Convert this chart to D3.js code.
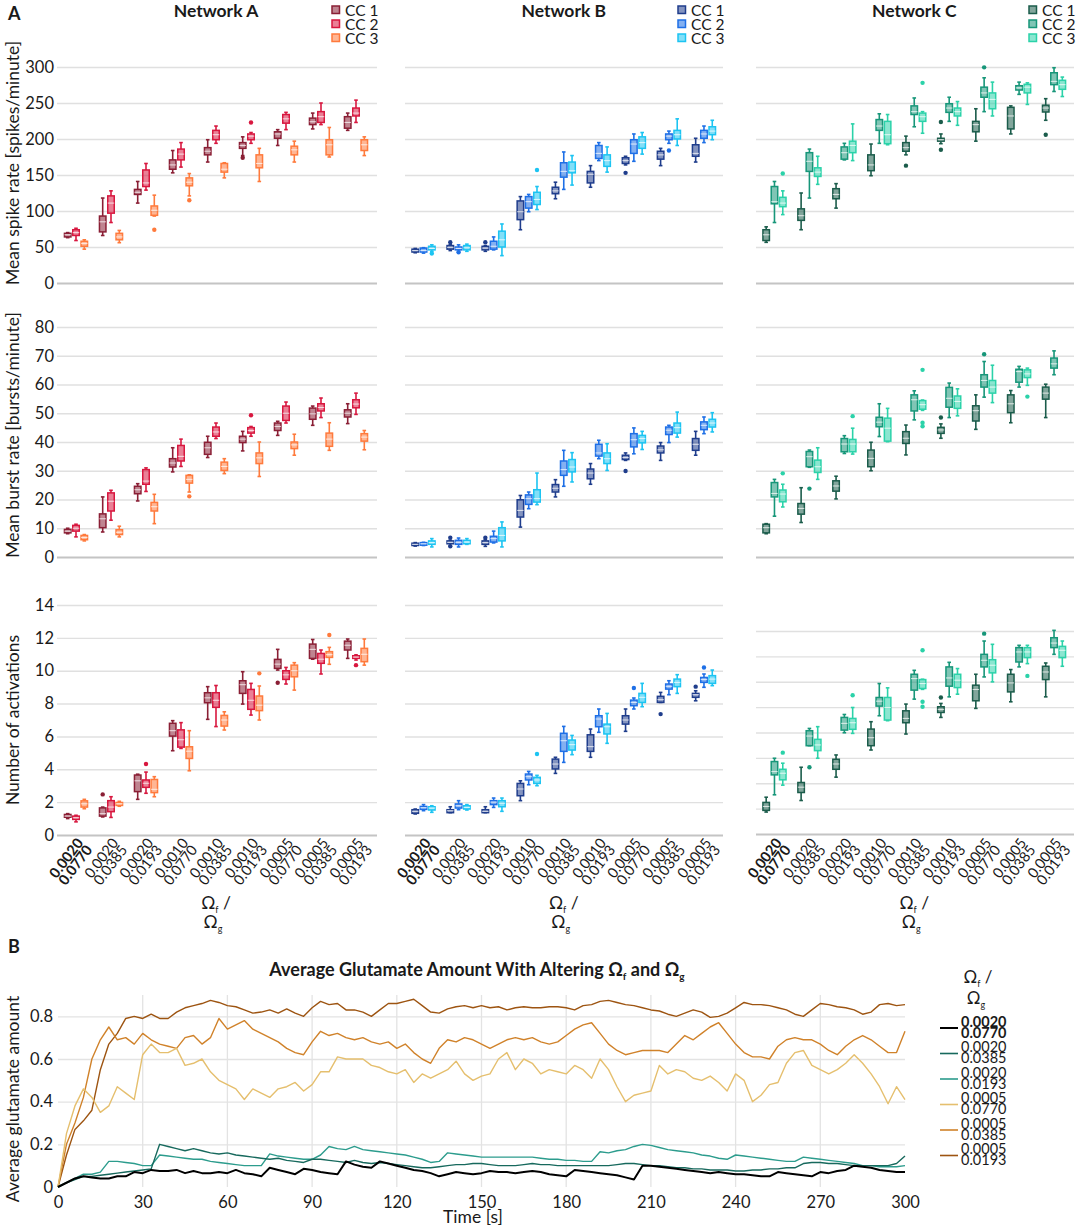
<!DOCTYPE html>
<html>
<head>
<meta charset="utf-8">
<script src="https://cdn.jsdelivr.net/npm/d3@7"></script>
<style>
  body { margin: 0; background: #fff; }
  svg { font-family: Lato, "Open Sans", sans-serif; }
</style>
</head>
<body>
<svg id="fig" width="1084" height="1227"></svg>
<script>
// ---------- data: panel A (box plots) ----------
const omegaF = ['0.0020', '0.0020', '0.0020', '0.0010', '0.0010', '0.0010', '0.0005', '0.0005', '0.0005'];
const omegaG = ['0.0770', '0.0385', '0.0193', '0.0770', '0.0385', '0.0193', '0.0770', '0.0385', '0.0193'];
const ccLabels = ['CC 1', 'CC 2', 'CC 3'];
const networks = ['Network A', 'Network B', 'Network C'];
const colorsA = ['#8a1f35', '#d8173f', '#ff7a3c'];
const colorsB = ['#1f3d8c', '#1e6fe6', '#1cc4f2'];
const colorsC = ['#1b5c4b', '#179679', '#2bd2a9'];

// each box: [low whisker, q1, median, q3, high whisker]; outliers: [cc, group, value]
const spikeA = [
  [[63,64,67,69,70],[66,71,85,93,118],[111,123,126,130,141],[153,158,164,171,184],[168,178,183,188,199],[177,187,191,195,203],[191,201,207,210,213],[214,220,224,229,236],[212,215,223,231,236]],
  [[59,66,70,74,76],[84,97,111,121,128],[129,134,139,157,166],[161,171,179,186,195],[194,199,206,212,218],[194,199,204,207,209],[213,222,228,234,237],[220,223,231,238,250],[223,232,236,243,254]],
  [[47,51,55,58,60],[56,60,64,69,73],[93,94,101,107,122],[121,135,140,146,152],[146,154,158,166,167],[141,160,166,178,187],[168,178,185,190,197],[175,178,192,199,216],[177,184,192,199,203]]
];
const spikeAOut = [[0,5,174],[1,5,223],[2,2,74],[2,3,115]];

const burstA = [
  [[8.1,8.4,9,9.6,10],[8.7,10.2,13.3,15,20.9],[19.5,22,23.4,24.6,25.5],[29.6,31.3,32.7,34.2,38],[34.6,35.7,38,39.9,42],[36.9,39.8,41,42,43.7],[42.3,44,45.4,46.6,47.2],[45.8,47.9,49.8,51.8,52.5],[46.4,48.7,50,51.2,53.3]],
  [[7,9,10,11,11.4],[12.8,16,19.4,22.3,23.2],[22.8,25.3,26.4,30.4,31],[31.5,33.4,35,38.8,41],[41.2,42,43.5,45.2,46.6],[42,43.1,44,45,45.4],[46.6,47.5,50,52.5,53.9],[48.5,50.8,52,53.3,55.3],[49.6,51.9,53.2,54.7,57]],
  [[5.6,6,6.8,7.5,7.8],[7,7.8,8.6,9.5,10.7],[11.6,16,17.5,19,21.8],[22.6,25.7,27,28.4,28.6],[29,30.1,31.5,33,34.2],[28,32.5,34.5,36.2,40],[35.4,37.7,39,40,42.7],[37.1,38.5,41,43.1,46.7],[37.3,40.3,41.7,42.9,44]]
];
const burstAOut = [[1,5,49.3],[2,3,21.1]];

const actA = [
  [[1.0,1.08,1.15,1.25,1.3],[1.1,1.15,1.3,1.65,1.7],[2.17,2.64,3.3,3.65,3.7],[5.13,6.02,6.35,6.8,6.96],[7.04,8.05,8.35,8.66,9.03],[7.97,8.62,9.15,9.39,9.94],[10.04,10.14,10.4,10.69,11.3],[10.7,10.75,11.3,11.62,11.9],[10.75,11.26,11.55,11.8,11.93]],
  [[0.8,0.95,1.05,1.15,1.2],[1.07,1.42,1.7,2.09,2.33],[2.54,2.9,3.15,3.35,3.83],[5.27,5.35,5.8,6.4,6.84],[6.6,7.77,8.2,8.66,9.1],[7.3,7.65,8.2,8.86,9.23],[9.19,9.47,9.75,10,10.2],[9.8,10.45,10.7,11.05,11.26],[10.65,10.75,10.83,10.91,10.97]],
  [[1.6,1.7,1.9,2.08,2.17],[1.75,1.8,1.9,1.98,2.05],[2.33,2.58,2.78,3.38,3.55],[3.91,4.66,5.1,5.37,6.35],[6.39,6.63,7.0,7.28,7.5],[7.0,7.57,7.9,8.46,9.07],[8.82,9.63,10,10.34,10.49],[10.39,10.81,10.98,11.16,11.42],[10.34,10.55,11,11.36,11.93]]
];
const actAOut = [[0,1,2.47],[1,2,4.32],[2,5,9.84],[0,6,9.27],[2,7,12.17],[1,8,10.34]];

const spikeB = [
  [[42,43,45,47,48],[45,47,49.5,52,53],[44,46,48.5,51,52],[74,88,99,114,120],[117,124,128,133,140],[133,139,151,155,163],[164,166,170,174,176],[163,172,178,183,187],[168,176,180,192,201]],
  [[41.5,43,45,48.5,49],[44,46,48,50,53],[46,47,51,58,64],[99,104,113,120,123],[130,147,155,167,182],[170,173,180,191,195],[169,180,193,199,207],[194,199,204,207,211],[195,201,207,212,218]],
  [[44,46,48,51,53],[44,46,49,52,54],[38,50,60,72,82],[102,109,116,126,134],[136,153,156,168,177],[154,162,170,178,189],[179,187,195,203,209],[191,200,206,212,228],[199,206,211,217,226]]
];
const spikeBOut = [[2,0,41],[0,1,56.5],[1,1,42.6],[0,2,56.5],[2,3,157],[0,6,153],[1,7,184]];

const burstB = [
  [[3.8,4,4.4,4.8,5],[4,4.6,5.1,5.6,5.8],[3.7,4.4,5,5.6,6],[10.4,13.9,16.2,19.9,21.4],[20.9,22.6,23.9,25.2,26.9],[25.3,27.2,29.2,30.6,32.5],[33.6,33.9,34.6,35.4,36.2],[33.6,36.2,37.3,38.6,39.8],[35.4,37.1,39.2,41.2,43.7]],
  [[4,4.1,4.6,5,5.1],[3.5,4.4,5.1,5.8,6.6],[4.9,5.2,6.4,7.2,9],[16.8,18.3,20.3,21.6,22.6],[24.6,28.4,30.4,33.4,37.1],[34.2,35.1,36.2,39.2,40.6],[35.9,38.3,40.8,42.9,44.9],[39.8,42.6,44.1,45.2,45.8],[42.9,44.3,45.8,47,48.7]],
  [[3.5,4.4,5,5.6,6.4],[4.4,4.6,5.2,5.8,6.4],[3.5,5.6,7.5,10.2,12.2],[18.2,19.1,20.3,23.4,29.2],[26.1,29.6,31.3,33.9,36.3],[30.1,32.5,34.2,36.2,39.4],[37.4,39.7,41.2,42.3,43.7],[41.7,43.1,45,46.6,50.4],[43.5,45.2,46.6,47.9,50.2]]
];
const burstBOut = [[0,1,6.7],[0,1,3.7],[0,2,6.7],[0,6,29.9]];

const actB = [
  [[1.28,1.32,1.44,1.54,1.58],[1.36,1.36,1.48,1.54,1.72],[1.36,1.36,1.44,1.54,1.72],[2.09,2.39,2.8,3.14,3.3],[3.75,4.02,4.32,4.62,4.73],[4.73,5.09,5.38,6.1,6.45],[6.31,6.75,7.0,7.26,7.67],[8.07,8.07,8.24,8.44,8.68],[8.17,8.38,8.54,8.62,8.78]],
  [[1.48,1.56,1.66,1.74,1.85],[1.54,1.64,1.78,1.89,2.09],[1.68,1.85,2.0,2.09,2.25],[3.06,3.35,3.55,3.71,3.87],[4.42,5.09,5.74,6.19,6.61],[6.25,6.59,7.06,7.26,7.67],[7.67,7.87,8.07,8.21,8.34],[8.54,8.88,9.05,9.19,9.39],[8.99,9.29,9.47,9.59,9.8]],
  [[1.38,1.52,1.64,1.72,1.78],[1.52,1.58,1.68,1.78,1.85],[1.44,1.72,1.93,2.09,2.25],[3.0,3.14,3.35,3.51,3.63],[4.89,5.17,5.5,5.78,6.06],[5.58,6.15,6.59,6.75,7.4],[7.81,8.07,8.38,8.62,9.23],[8.62,9.03,9.29,9.49,9.76],[9.09,9.23,9.49,9.7,10.04]]
];
const actBOut = [[2,3,4.93],[1,6,8.95],[0,7,7.36],[0,8,9.03],[1,8,10.2]];

const spikeC = [
  [[56.5,59,67,74,78],[74,87,93.5,103,125],[104,117,123,131,138],[149,156,164,178,193],[178,183,188,195,204],[193.5,197,199,201,207],[197,210,220,224.5,242],[207,214,232,244,246],[226,237.5,243,247,256]],
  [[84,110,113,134,141],[118,155,169,181,186],[171,172,181,189,194],[194,212,218,227,235],[217,234,238,246,257],[224.5,237,243,249,258],[238,258,264,272,285],[262,268,271,274,279],[266,275.5,280,292,299]],
  [[95,106,111,119,128],[137,148,154,160,176],[170,181,191,197,221],[192,193.5,206,224.5,234],[208,224.5,231,236,238],[219,232,238,243,252],[232,242,255,264,279],[248,264,272,276,278],[259,269,275.5,281.5,286]]
];
const spikeCOut = [[2,0,152],[0,4,163],[2,4,278],[0,5,223.6],[0,5,185],[1,6,299.5],[0,8,206]];

const burstC = [
  [[8.1,8.4,10.2,11.4,11.6],[12,14.9,16.9,18.6,24.1],[20.2,22.9,24.7,26.5,28.1],[30,31.4,34.3,37.2,39.9],[35.5,39.5,41.3,43.6,45.9],[41.3,43,44.2,45.1,46.3],[44.4,47.3,50.9,52.6,56.4],[46.7,50.2,53.3,56.4,57.9],[48.5,54.9,57,59.1,60.1]],
  [[14.2,20.9,22.1,25.9,27],[31.2,31.4,34.9,36.7,37.2],[36,36.6,39.3,41.2,42.2],[41.9,45.3,46.9,48.6,53.3],[47.7,50.8,54.7,56.4,57.8],[48.5,52.1,55.2,59,60.5],[55.6,59.1,61.4,63.4,68],[59.1,60.8,64.5,65.3,66.3],[63.4,65.7,67.2,69.2,71.7]],
  [[17.4,19.2,21.9,23.3,25.3],[27,29.4,31.4,33.7,38],[35.8,36.6,39.3,40.9,44.8],[40.1,40.3,44.8,48.3,51.7],[51,51.4,53,54.4,54.6],[49.1,51.7,54.1,56,58.5],[53.7,57,59.1,61.4,66.7],[59.7,62.4,63.7,65.1,65.7],null]
];
const burstCOut = [[2,0,29.1],[1,1,23.8],[2,2,49],[2,4,46.7],[2,4,45.5],[2,4,65.1],[0,5,48.5],[1,6,70.5],[2,7,55.8]];

const actC = [
  [[1.73,1.86,2.17,2.49,2.9],[2.64,3.27,3.69,4.06,5.26],[4.48,5.1,5.52,5.89,6.23],[6.62,6.96,7.59,8.27,8.85],[7.88,8.77,9.11,9.71,10.24],[9.19,9.58,9.82,10.03,10.29],[9.9,10.5,11.39,11.73,12.59],[10.42,11.2,11.91,12.59,12.96],[10.81,12.17,12.77,13.22,13.48]],
  [[3.09,4.66,4.92,5.71,5.97],[6.96,6.96,7.72,8.14,8.32],[7.98,8.19,8.72,9.19,9.42],[9.32,10.08,10.47,10.76,11.86],[10.63,11.34,12.25,12.59,12.9],[10.81,11.65,12.3,13.17,13.53],[12.38,13.17,13.69,14.16,15.21],[13.17,13.56,14.35,14.69,14.87],[14.16,14.69,15.05,15.47,16.05]],
  [[3.85,4.27,4.79,5.1,5.58],[5.97,6.57,7.02,7.46,8.46],[7.93,8.25,8.77,9.11,9.97],[8.93,8.98,9.97,10.76,11.52],[11.4,11.47,11.86,12.17,12.2],[11.02,11.54,12.12,12.59,13.04],[11.99,12.7,13.3,13.74,14.95],[13.43,13.9,14.35,14.69,14.87],[13.22,13.9,14.48,14.79,15.21]]
];
const actCOut = [[2,0,6.41],[1,1,5.26],[2,2,10.94],[2,4,14.48],[2,4,10.42],[2,4,10.03],[0,5,10.76],[1,6,15.79],[2,7,12.46]];

const rowTitles = ['Mean spike rate [spikes/minute]', 'Mean burst rate [bursts/minute]', 'Number of activations'];

// ---------- data: panel B (glutamate time series) ----------
const timeS = [
  0,3,6,9,12,15,18,21,24,27, 30,33,36,39,42,45,48,51,54,57,
  60,63,66,69,72,75,78,81,84,87, 90,93,96,99,102,105,108,111,114,117,
  120,123,126,129,132,135,138,141,144,147, 150,153,156,159,162,165,168,171,174,177,
  180,183,186,189,192,195,198,201,204,207, 210,213,216,219,222,225,228,231,234,237,
  240,243,246,249,252,255,258,261,264,267, 270,273,276,279,282,285,288,291,294,297,
  300
];
const glu_0020_0770 = [
  0,0.02,0.04,0.05,0.045,0.04,0.04,0.05,0.05,0.07, 0.065,0.08,0.075,0.075,0.08,0.065,0.075,0.065,0.065,0.07,
  0.065,0.08,0.065,0.06,0.05,0.09,0.08,0.07,0.06,0.085, 0.08,0.07,0.065,0.06,0.12,0.105,0.095,0.09,0.12,0.11,
  0.1,0.09,0.08,0.075,0.065,0.05,0.06,0.07,0.065,0.06, 0.065,0.075,0.07,0.07,0.065,0.07,0.075,0.07,0.06,0.055,
  0.05,0.08,0.075,0.07,0.065,0.06,0.055,0.045,0.035,0.1, 0.1,0.095,0.09,0.085,0.08,0.075,0.07,0.065,0.07,0.065,
  0.06,0.06,0.055,0.05,0.05,0.07,0.065,0.06,0.055,0.05, 0.07,0.065,0.075,0.08,0.1,0.095,0.09,0.08,0.075,0.07,
  0.07
];
const glu_0020_0385 = [
  0,0.02,0.035,0.05,0.05,0.055,0.06,0.065,0.07,0.075, 0.08,0.085,0.2,0.19,0.18,0.17,0.18,0.17,0.16,0.155,
  0.16,0.15,0.145,0.14,0.135,0.13,0.135,0.125,0.12,0.115, 0.13,0.13,0.125,0.12,0.115,0.125,0.115,0.11,0.115,0.11,
  0.105,0.1,0.095,0.09,0.09,0.095,0.1,0.105,0.105,0.11, 0.11,0.105,0.1,0.1,0.1,0.105,0.11,0.105,0.105,0.1,
  0.1,0.1,0.1,0.1,0.1,0.1,0.105,0.11,0.11,0.105, 0.1,0.1,0.095,0.09,0.09,0.085,0.085,0.08,0.08,0.08,
  0.075,0.075,0.08,0.08,0.085,0.085,0.09,0.09,0.11,0.115, 0.115,0.11,0.11,0.105,0.1,0.1,0.1,0.1,0.1,0.11,
  0.145
];
const glu_0020_0193 = [
  0,0.02,0.04,0.06,0.06,0.07,0.12,0.12,0.115,0.11, 0.1,0.1,0.15,0.145,0.14,0.135,0.13,0.13,0.12,0.115,
  0.11,0.105,0.1,0.1,0.1,0.155,0.145,0.14,0.135,0.13, 0.13,0.15,0.19,0.18,0.175,0.19,0.175,0.17,0.165,0.16,
  0.155,0.15,0.14,0.13,0.115,0.12,0.16,0.155,0.15,0.145, 0.14,0.14,0.14,0.14,0.14,0.14,0.14,0.135,0.13,0.13,
  0.125,0.125,0.12,0.12,0.165,0.16,0.17,0.175,0.19,0.2, 0.195,0.185,0.175,0.17,0.165,0.16,0.15,0.145,0.135,0.13,
  0.15,0.145,0.14,0.135,0.13,0.125,0.12,0.12,0.14,0.135, 0.13,0.125,0.12,0.115,0.11,0.1,0.1,0.095,0.095,0.095,
  0.1
];
const glu_0005_0770 = [
  0,0.25,0.38,0.46,0.42,0.35,0.38,0.47,0.44,0.41, 0.62,0.67,0.63,0.63,0.65,0.57,0.58,0.6,0.54,0.5,
  0.48,0.46,0.41,0.46,0.44,0.42,0.46,0.47,0.49,0.45, 0.48,0.54,0.54,0.61,0.6,0.6,0.6,0.57,0.56,0.54,
  0.53,0.55,0.49,0.53,0.51,0.53,0.55,0.59,0.53,0.5, 0.52,0.53,0.6,0.63,0.55,0.6,0.58,0.53,0.55,0.54,
  0.53,0.57,0.55,0.51,0.6,0.55,0.47,0.4,0.43,0.44, 0.45,0.57,0.53,0.55,0.54,0.51,0.5,0.52,0.49,0.45,
  0.53,0.5,0.4,0.43,0.48,0.49,0.58,0.63,0.64,0.57, 0.55,0.53,0.55,0.58,0.62,0.58,0.53,0.47,0.39,0.47,
  0.41
];
const glu_0005_0385 = [
  0,0.2,0.3,0.42,0.6,0.69,0.75,0.69,0.7,0.67, 0.72,0.69,0.67,0.66,0.65,0.7,0.71,0.67,0.7,0.79,
  0.74,0.76,0.78,0.74,0.72,0.7,0.68,0.65,0.63,0.62, 0.68,0.73,0.71,0.72,0.7,0.69,0.7,0.68,0.67,0.68,
  0.65,0.67,0.63,0.6,0.58,0.65,0.69,0.68,0.7,0.69, 0.67,0.65,0.67,0.69,0.7,0.69,0.7,0.68,0.67,0.68,
  0.71,0.74,0.76,0.77,0.72,0.67,0.64,0.62,0.63,0.64, 0.64,0.64,0.63,0.67,0.71,0.69,0.72,0.75,0.77,0.72,
  0.67,0.63,0.61,0.61,0.6,0.66,0.69,0.7,0.69,0.69, 0.67,0.64,0.62,0.66,0.69,0.71,0.69,0.66,0.63,0.63,
  0.73
];
const glu_0005_0193 = [
  0,0.15,0.27,0.31,0.36,0.55,0.67,0.72,0.79,0.8, 0.79,0.81,0.79,0.79,0.82,0.84,0.85,0.86,0.875,0.865,
  0.85,0.845,0.83,0.815,0.82,0.83,0.815,0.835,0.815,0.8, 0.84,0.87,0.855,0.86,0.83,0.83,0.82,0.8,0.83,0.86,
  0.86,0.87,0.88,0.85,0.82,0.815,0.835,0.845,0.85,0.84, 0.85,0.84,0.845,0.83,0.84,0.845,0.84,0.84,0.845,0.845,
  0.84,0.83,0.85,0.855,0.87,0.875,0.865,0.855,0.85,0.84, 0.83,0.825,0.81,0.8,0.815,0.83,0.82,0.795,0.8,0.815,
  0.84,0.865,0.855,0.855,0.85,0.84,0.83,0.81,0.8,0.83, 0.86,0.855,0.845,0.84,0.83,0.81,0.82,0.855,0.86,0.85,
  0.855
];
const gluSeries = [glu_0020_0770, glu_0020_0385, glu_0020_0193, glu_0005_0770, glu_0005_0385, glu_0005_0193];
const gluF = ['0.0020', '0.0020', '0.0020', '0.0005', '0.0005', '0.0005'];
const gluG = ['0.0770', '0.0385', '0.0193', '0.0770', '0.0385', '0.0193'];
const gluColors = ['#000000', '#17695d', '#2c9c8d', '#e5bf6e', '#d0822a', '#9d5411'];
const timeTicks = [0, 30, 60, 90, 120, 150, 180, 210, 240, 270, 300];
const gluTicks = [0, 0.2, 0.4, 0.6, 0.8];

// ---------- drawing ----------
const svg = d3.select('#fig');
const ink = '#1a1a1a';

const colLayout = [
  { x0: 57, x1: 377, g0: 58.5, g1: 373.5 },
  { x0: 405, x1: 723, g0: 406, g1: 721.5 },
  { x0: 756, x1: 1074, g0: 757, g1: 1071.5 },
];
const rowLayout = [
  { y0: 283, y1: 67, max: 300, step: 50 },
  { y0: 557, y1: 327, max: 80, step: 10 },
  { y0: 835, y1: 605, max: 14, step: 2 },
];
const rowLayoutC3 = { y0: 834, y1: 631, max: 16, step: 2 };

function drawPanel(ci, lay, boxes, outs, colors) {
  const c = colLayout[ci];
  const y = d3.scaleLinear().domain([0, lay.max]).range([lay.y0, lay.y1]);
  const xg = d3.scaleBand().domain(d3.range(9)).range([c.g0, c.g1]);
  const xc = d3.scalePoint().domain([0, 1, 2]).range([-8.3, 8.3]);
  const g = svg.append('g');

  g.append('g')
    .attr('transform', `translate(${c.x0},0)`)
    .call(d3.axisLeft(y)
      .tickValues(d3.range(0, lay.max + 0.001, lay.step))
      .tickSize(-(c.x1 - c.x0))
      .tickPadding(3)
      .tickFormat(ci === 0 ? d3.format('d') : ''))
    .call((a) => a.select('.domain').remove())
    .call((a) => a.selectAll('.tick line')
      .attr('stroke', (d) => (d === 0 ? '#c4c4c4' : '#e0e0e0'))
      .attr('stroke-width', (d) => (d === 0 ? 2 : 1.4)))
    .call((a) => a.selectAll('.tick text')
      .attr('font-size', 16.5).attr('fill', ink).attr('font-family', 'Lato, sans-serif'));

  const bw = 6.5;
  boxes.forEach((series, k) => {
    series.forEach((b, i) => {
      if (!b) return;
      const cx = xg(i) + xg.bandwidth() / 2 + xc(k);
      const col = colors[k];
      const bg = g.append('g');
      bg.append('line').attr('x1', cx).attr('x2', cx).attr('y1', y(b[4])).attr('y2', y(b[3]))
        .attr('stroke', col).attr('stroke-width', 1.6);
      bg.append('line').attr('x1', cx).attr('x2', cx).attr('y1', y(b[1])).attr('y2', y(b[0]))
        .attr('stroke', col).attr('stroke-width', 1.6);
      [b[0], b[4]].forEach((v) => {
        bg.append('line').attr('x1', cx - 1.8).attr('x2', cx + 1.8).attr('y1', y(v)).attr('y2', y(v))
          .attr('stroke', col).attr('stroke-width', 1.6);
      });
      bg.append('rect')
        .attr('x', cx - bw / 2).attr('width', bw)
        .attr('y', y(b[3])).attr('height', Math.max(1.5, y(b[1]) - y(b[3])))
        .attr('fill', col).attr('fill-opacity', 0.55)
        .attr('stroke', col).attr('stroke-width', 1.5);
      bg.append('line').attr('x1', cx - bw / 2).attr('x2', cx + bw / 2).attr('y1', y(b[2])).attr('y2', y(b[2]))
        .attr('stroke', '#ffffff').attr('stroke-opacity', 0.7).attr('stroke-width', 1.1);
    });
  });

  outs.forEach(([k, i, v]) => {
    g.append('circle')
      .attr('cx', xg(i) + xg.bandwidth() / 2 + xc(k))
      .attr('cy', y(v)).attr('r', 2.2)
      .attr('fill', colors[k]);
  });
  return xg;
}

const panels = [
  [spikeA, spikeAOut, burstA, burstAOut, actA, actAOut, colorsA],
  [spikeB, spikeBOut, burstB, burstBOut, actB, actBOut, colorsB],
  [spikeC, spikeCOut, burstC, burstCOut, actC, actCOut, colorsC],
];

panels.forEach((p, ci) => {
  drawPanel(ci, rowLayout[0], p[0], p[1], p[6]);
  drawPanel(ci, rowLayout[1], p[2], p[3], p[6]);
  const xg = drawPanel(ci, ci === 2 ? rowLayoutC3 : rowLayout[2], p[4], p[5], p[6]);
  const c = colLayout[ci];

  // column title
  svg.append('text').attr('x', (c.g0 + c.g1) / 2).attr('y', 17)
    .attr('text-anchor', 'middle').attr('font-size', 17.5).attr('font-weight', 'bold')
    .attr('fill', ink).text(networks[ci]);

  // legend
  ccLabels.forEach((lab, k) => {
    const ly = 10 + k * 14;
    svg.append('rect').attr('x', c.x1 - 45).attr('y', ly - 4).attr('width', 7.5).attr('height', 7.5)
      .attr('fill', p[6][k]).attr('fill-opacity', 0.55).attr('stroke', p[6][k]).attr('stroke-width', 1.5);
    svg.append('text').attr('x', c.x1 - 32).attr('y', ly + 5.5).attr('font-size', 15.5)
      .attr('fill', ink).text(lab);
  });

  // rotated category labels
  d3.range(9).forEach((i) => {
    const cx = xg(i) + xg.bandwidth() / 2;
    const t = svg.append('text')
      .attr('transform', `translate(${cx + 8},${843}) rotate(-53)`)
      .attr('text-anchor', 'end').attr('font-size', 14.5).attr('fill', ink)
      .attr('font-weight', i === 0 ? 'bold' : 'normal');
    t.append('tspan').attr('x', 0).attr('y', 0).text(omegaF[i]);
    t.append('tspan').attr('x', 0).attr('dy', 11.5).text(omegaG[i]);
  });

  // Ωf / Ωg axis label
  const mx = (c.g0 + c.g1) / 2;
  const t1 = svg.append('text').attr('x', mx).attr('y', 909).attr('text-anchor', 'middle')
    .attr('font-size', 17.5).attr('fill', ink);
  t1.append('tspan').text('Ω');
  t1.append('tspan').attr('font-size', 9).attr('dy', 4).text('f');
  t1.append('tspan').attr('dy', -4).text(' /');
  const t2 = svg.append('text').attr('x', mx - 3).attr('y', 928).attr('text-anchor', 'middle')
    .attr('font-size', 17.5).attr('fill', ink);
  t2.append('tspan').text('Ω');
  t2.append('tspan').attr('font-size', 9).attr('dy', 4).text('g');
});

// row titles (y axis)
[163, 435, 720].forEach((cy, r) => {
  svg.append('text').attr('transform', `translate(19,${cy}) rotate(-90)`)
    .attr('text-anchor', 'middle').attr('font-size', 17.5).attr('fill', ink).text(rowTitles[r]);
});

svg.append('text').attr('x', 8).attr('y', 20).attr('font-size', 18).attr('font-weight', 'bold').attr('fill', ink).text('A');
svg.append('text').attr('x', 8).attr('y', 953).attr('font-size', 18).attr('font-weight', 'bold').attr('fill', ink).text('B');

// ---------- panel B ----------
const xT = d3.scaleLinear().domain([0, 300]).range([58, 905]);
const yG = d3.scaleLinear().domain([0, 0.9]).range([1187, 995]);
const gb = svg.append('g');

gb.append('g').selectAll('line').data(timeTicks.filter((d) => d > 0 && d < 300)).join('line')
  .attr('x1', (d) => xT(d)).attr('x2', (d) => xT(d)).attr('y1', yG(0.9)).attr('y2', yG(0))
  .attr('stroke', '#e3e3e3').attr('stroke-width', 1.3);

gb.append('g').attr('transform', `translate(${xT(0)},0)`)
  .call(d3.axisLeft(yG).tickValues(gluTicks).tickSize(-(xT(300) - xT(0))).tickPadding(5)
    .tickFormat((d) => (d === 0 ? '0' : d.toFixed(1))))
  .call((a) => a.select('.domain').remove())
  .call((a) => a.selectAll('.tick line').attr('stroke', (d) => (d === 0 ? 'none' : '#e3e3e3')).attr('stroke-width', 1.3))
  .call((a) => a.selectAll('.tick text').attr('font-size', 16.5).attr('fill', ink).attr('font-family', 'Lato, sans-serif'));

gb.append('g').attr('transform', `translate(0,${yG(0)})`)
  .call(d3.axisBottom(xT).tickValues(timeTicks).tickSize(0).tickPadding(9))
  .call((a) => a.select('.domain').remove())
  .call((a) => a.selectAll('.tick text').attr('font-size', 16.5).attr('fill', ink).attr('font-family', 'Lato, sans-serif'));

const line = d3.line().x((d, i) => xT(timeS[i])).y((d) => yG(d));
const drawOrder = [5, 4, 3, 2, 1, 0];
drawOrder.forEach((k) => {
  gb.append('path').datum(gluSeries[k])
    .attr('fill', 'none').attr('stroke', gluColors[k])
    .attr('stroke-width', k === 0 ? 2 : 1.4)
    .attr('stroke-linejoin', 'round')
    .attr('d', line);
});

const tt = svg.append('text').attr('x', 477).attr('y', 976).attr('text-anchor', 'middle')
  .attr('font-size', 18).attr('font-weight', 'bold').attr('fill', ink);
tt.append('tspan').text('Average Glutamate Amount With Altering Ω');
tt.append('tspan').attr('font-size', 10).attr('dy', 4).text('f');
tt.append('tspan').attr('dy', -4).text(' and Ω');
tt.append('tspan').attr('font-size', 10).attr('dy', 4).text('g');

svg.append('text').attr('transform', 'translate(19,1099) rotate(-90)')
  .attr('text-anchor', 'middle').attr('font-size', 17.5).attr('fill', ink).text('Average glutamate amount');
svg.append('text').attr('x', 473).attr('y', 1223).attr('text-anchor', 'middle')
  .attr('font-size', 17.5).attr('fill', ink).text('Time [s]');

// legend B
const lh1 = svg.append('text').attr('x', 978).attr('y', 983).attr('text-anchor', 'middle')
  .attr('font-size', 17).attr('fill', ink);
lh1.append('tspan').text('Ω');
lh1.append('tspan').attr('font-size', 9).attr('dy', 4).text('f');
lh1.append('tspan').attr('dy', -4).text(' /');
const lh2 = svg.append('text').attr('x', 976).attr('y', 1004).attr('text-anchor', 'middle')
  .attr('font-size', 17).attr('fill', ink);
lh2.append('tspan').text('Ω');
lh2.append('tspan').attr('font-size', 9).attr('dy', 4).text('g');

gluSeries.forEach((s, k) => {
  const ly = 1028 + k * 25.5;
  svg.append('line').attr('x1', 940).attr('x2', 958).attr('y1', ly).attr('y2', ly)
    .attr('stroke', gluColors[k]).attr('stroke-width', k === 0 ? 2 : 1.6);
  const t = svg.append('text').attr('x', 961).attr('font-size', 14.5).attr('fill', ink)
    .attr('font-weight', k === 0 ? 'bold' : 'normal');
  t.append('tspan').attr('x', 961).attr('y', ly - 1.4).text(gluF[k]);
  t.append('tspan').attr('x', 961).attr('y', ly + 9.6).text(gluG[k]);
});
</script>
</body>
</html>
